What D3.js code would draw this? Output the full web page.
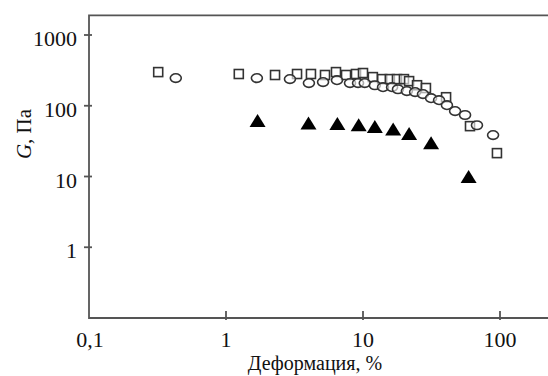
<!DOCTYPE html>
<html><head><meta charset="utf-8">
<script src="https://cdn.jsdelivr.net/npm/d3@7"></script>
<style>body{margin:0;background:#fff}svg{display:block}text{font-family:"Liberation Serif","Times New Roman",serif;fill:#111}</style>
</head><body>
<svg id="c" width="548" height="376"></svg>
<script>
// data
const squareX = [0.32,1.24,2.28,3.3,4.17,5.28,6.35,7.52,8.89,10,11.8,13.8,15.7,17.7,19.9,21.7,24.8,28.8,40.4,60.4,95];
const squareY = [299,281,272,281,281,272,299,272,281,290,254,238,238,238,238,223,195,178,132,51.5,21.4];
const circleX = [0.43,1.68,2.93,4.03,5.11,6.46,8.04,9.2,10.3,12.2,14.0,16.3,18.0,20.9,24.0,27.4,31.4,35.9,41.0,47.0,55.6,67.9,89];
const circleY = [246,246,238,209,216,230,209,209,209,195,183,183,171,161,156,146,128,120,102,84,74,53,38.5];
const triX = [1.7,4.0,6.5,9.3,12.2,16.6,21.7,31.4,59];
const triY = [61,56,55,53,50,46,40,29.5,9.8];
const xTicks = [0.1,1,10,100];
const xTickLabels = ["0,1","1","10","100"];
const yTicks = [1,10,100,1000];
const yTickLabels = ["1","10","100","1000"];

const svg = d3.select("#c");
const x = d3.scaleLog().domain([0.1, 2500]).range([89, 89 + 137*Math.log10(25000)]);
const y = d3.scaleLog().domain([0.1, 1900]).range([318, 318 - 70.75*Math.log10(19000)]);

const axisColor = "#555";
const x0 = x(0.1), y0 = y(0.1), yT = y(1900), xR = x(2500);
svg.append("path").attr("d", `M${xR},${yT}H${x0}V${y0}H${xR}`)
  .attr("fill","none").attr("stroke",axisColor).attr("stroke-width",1.8);

const yt = svg.append("g");
yTicks.forEach((v,i)=>{
  yt.append("line").attr("x1",x0-5).attr("x2",x0+3).attr("y1",y(v)).attr("y2",y(v))
    .attr("stroke",axisColor).attr("stroke-width",1.8);
  yt.append("text").attr("x",x0-12).attr("y",y(v)+11).attr("text-anchor","end")
    .attr("font-size",22).text(yTickLabels[i]);
});
const xt = svg.append("g");
xTicks.forEach((v,i)=>{
  if (i>0) xt.append("line").attr("x1",x(v)).attr("x2",x(v)).attr("y1",y0-7).attr("y2",y0+2)
    .attr("stroke",axisColor).attr("stroke-width",1.8);
  xt.append("text").attr("x",x(v)+ (i===0?1:0)).attr("y",347).attr("text-anchor","middle")
    .attr("font-size",22).text(xTickLabels[i]);
});

svg.append("text").attr("x",315).attr("y",370).attr("text-anchor","middle")
  .attr("font-size",20).text("Деформация, %");
const yl = svg.append("text").attr("transform","translate(31,134) rotate(-90)")
  .attr("text-anchor","middle").attr("font-size",21);
yl.append("tspan").attr("font-style","italic").text("G");
yl.append("tspan").text(", Па");

const stroke = "#333";
svg.append("g").selectAll("rect").data(squareX.map((d,i)=>[d,squareY[i]])).join("rect")
  .attr("x",d=>x(d[0])-4.5).attr("y",d=>y(d[1])-4.5).attr("width",9).attr("height",9)
  .attr("fill","#fff").attr("fill-opacity",0.6).attr("stroke",stroke).attr("stroke-width",1.6);
svg.append("g").selectAll("ellipse").data(circleX.map((d,i)=>[d,circleY[i]])).join("ellipse")
  .attr("cx",d=>x(d[0])).attr("cy",d=>y(d[1])).attr("rx",5.5).attr("ry",4.3)
  .attr("fill","#fff").attr("fill-opacity",0.6).attr("stroke",stroke).attr("stroke-width",1.6);
svg.append("g").selectAll("path").data(triX.map((d,i)=>[d,triY[i]])).join("path")
  .attr("d",d=>{const cx=x(d[0]), cy=y(d[1]); return `M${cx},${cy-7}L${cx+8},${cy+6}L${cx-8},${cy+6}Z`;})
  .attr("fill","#000");
</script>
</body></html>
